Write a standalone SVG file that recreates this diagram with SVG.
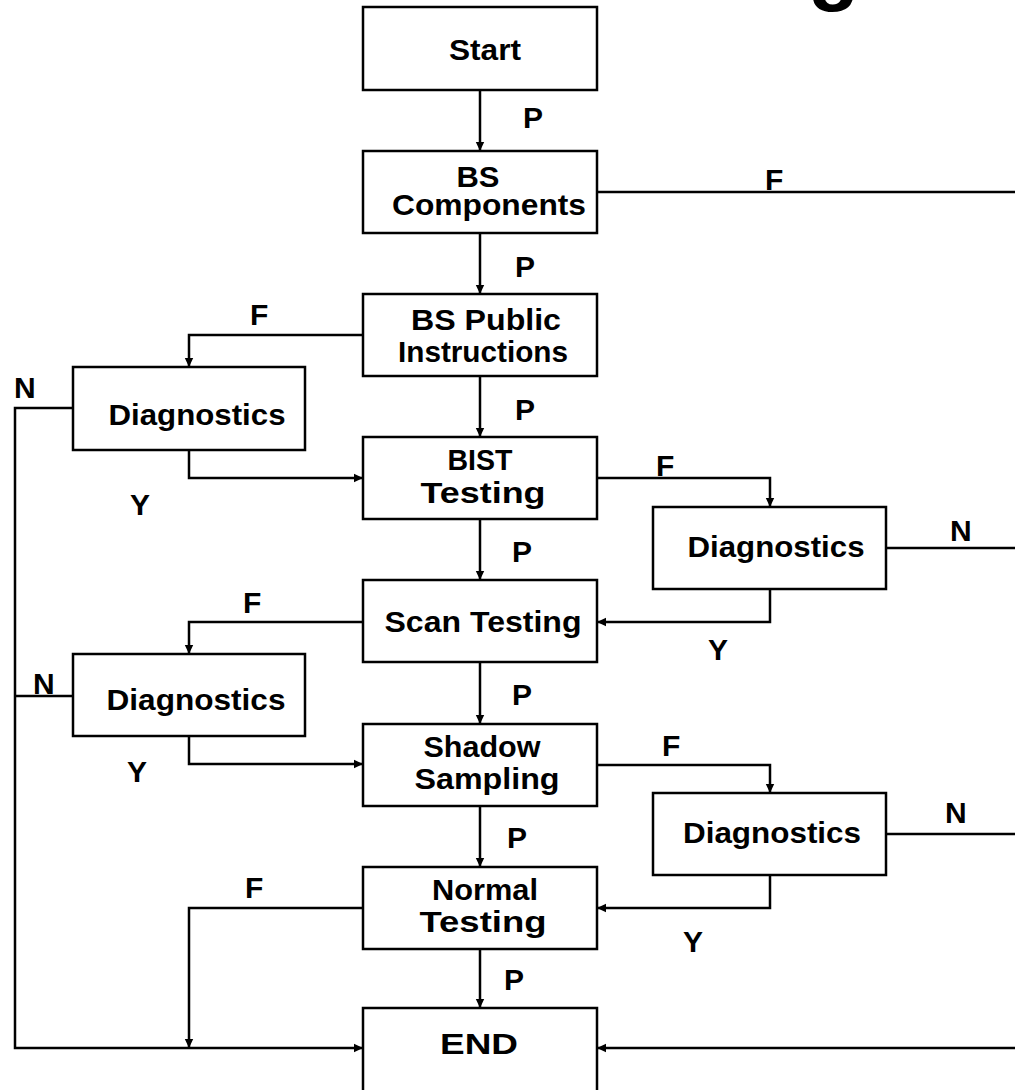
<svg xmlns="http://www.w3.org/2000/svg" width="1015" height="1090" viewBox="0 0 1015 1090">
  <style>
    .box { fill: #ffffff; stroke: #000000; stroke-width: 2.5; }
    .lbl { font-family: "Liberation Sans", Arial, sans-serif; font-weight: bold; font-size: 30px; fill: #000000; }
    .mid { text-anchor: middle; }
    .wire { fill: none; stroke: #000000; stroke-width: 2.5; }
    .arr { marker-end: url(#head); }
  </style>
  <defs>
    <marker id="head" markerUnits="userSpaceOnUse" markerWidth="10" markerHeight="10" refX="9" refY="5" orient="auto">
      <path d="M0,0.8 L9,5 L0,9.2 Z" fill="#000000"/>
    </marker>
  </defs>
  <rect width="1015" height="1090" fill="#ffffff"/>

  <!-- tail of the page heading, cut by the top edge -->
  <text class="lbl" x="808" y="-5" style="font-size:84px">g</text>

  <g id="connectors">
    <!-- main pass path -->
    <path class="wire arr" d="M480,90 V151"/>
    <path class="wire arr" d="M480,233 V294"/>
    <path class="wire arr" d="M480,376 V437"/>
    <path class="wire arr" d="M480,519 V580"/>
    <path class="wire arr" d="M480,662 V724"/>
    <path class="wire arr" d="M480,806 V867"/>
    <path class="wire arr" d="M480,949 V1008"/>
    <!-- BS components fail, leaves to the right -->
    <path class="wire" d="M597,192 H1015"/>
    <!-- BS public instructions fail -> diagnostics -->
    <path class="wire arr" d="M363,335 H189 V367"/>
    <path class="wire arr" d="M189,450 V478 H363"/>
    <!-- left bus to END -->
    <path class="wire arr" d="M73,408 H15 V1048 H363"/>
    <path class="wire" d="M73,696 H15"/>
    <!-- BIST fail -> diagnostics -->
    <path class="wire arr" d="M597,478 H770 V507"/>
    <path class="wire arr" d="M770,589 V622 H597"/>
    <path class="wire" d="M886,548 H1015"/>
    <!-- scan fail -> diagnostics -->
    <path class="wire arr" d="M363,622 H189 V654"/>
    <path class="wire arr" d="M189,736 V764 H363"/>
    <!-- shadow sampling fail -> diagnostics -->
    <path class="wire arr" d="M597,765 H770 V793"/>
    <path class="wire arr" d="M770,875 V908 H597"/>
    <path class="wire" d="M886,834 H1015"/>
    <!-- normal testing fail -->
    <path class="wire arr" d="M363,908 H189 V1048"/>
    <!-- right return into END -->
    <path class="wire arr" d="M1015,1048 H597"/>
  </g>

  <g id="connector-labels">
    <text class="lbl" x="523" y="128">P</text>
    <text class="lbl" x="515" y="277">P</text>
    <text class="lbl" x="515" y="420">P</text>
    <text class="lbl" x="512" y="562">P</text>
    <text class="lbl" x="512" y="705">P</text>
    <text class="lbl" x="507" y="848">P</text>
    <text class="lbl" x="504" y="990">P</text>

    <text class="lbl" x="765" y="190">F</text>
    <text class="lbl" x="250" y="325">F</text>
    <text class="lbl" x="656" y="476">F</text>
    <text class="lbl" x="243" y="613">F</text>
    <text class="lbl" x="662" y="756">F</text>
    <text class="lbl" x="245" y="898">F</text>

    <text class="lbl" x="14" y="398">N</text>
    <text class="lbl" x="33" y="694">N</text>
    <text class="lbl" x="950" y="541">N</text>
    <text class="lbl" x="945" y="823">N</text>

    <text class="lbl" x="130" y="515">Y</text>
    <text class="lbl" x="127" y="782">Y</text>
    <text class="lbl" x="708" y="660">Y</text>
    <text class="lbl" x="683" y="952">Y</text>
  </g>

  <g id="start">
    <rect class="box" x="363" y="7" width="234" height="83"/>
    <text class="lbl mid" x="485" y="60" textLength="72" lengthAdjust="spacingAndGlyphs">Start</text>
  </g>
  <g id="bs-components">
    <rect class="box" x="363" y="151" width="234" height="82"/>
    <text class="lbl mid" x="478" y="187" textLength="43" lengthAdjust="spacingAndGlyphs">BS</text>
    <text class="lbl mid" x="489" y="215" textLength="194" lengthAdjust="spacingAndGlyphs">Components</text>
  </g>
  <g id="bs-public-instructions">
    <rect class="box" x="363" y="294" width="234" height="82"/>
    <text class="lbl mid" x="486" y="330" textLength="150" lengthAdjust="spacingAndGlyphs">BS Public</text>
    <text class="lbl mid" x="483" y="362" textLength="170" lengthAdjust="spacingAndGlyphs">Instructions</text>
  </g>
  <g id="diagnostics-1">
    <rect class="box" x="73" y="367" width="232" height="83"/>
    <text class="lbl mid" x="197" y="425" textLength="177" lengthAdjust="spacingAndGlyphs">Diagnostics</text>
  </g>
  <g id="bist-testing">
    <rect class="box" x="363" y="437" width="234" height="82"/>
    <text class="lbl mid" x="480" y="470" textLength="65" lengthAdjust="spacingAndGlyphs">BIST</text>
    <text class="lbl mid" x="483" y="503" textLength="125" lengthAdjust="spacingAndGlyphs">Testing</text>
  </g>
  <g id="diagnostics-2">
    <rect class="box" x="653" y="507" width="233" height="82"/>
    <text class="lbl mid" x="776" y="557" textLength="177" lengthAdjust="spacingAndGlyphs">Diagnostics</text>
  </g>
  <g id="scan-testing">
    <rect class="box" x="363" y="580" width="234" height="82"/>
    <text class="lbl mid" x="483" y="632" textLength="197" lengthAdjust="spacingAndGlyphs">Scan Testing</text>
  </g>
  <g id="diagnostics-3">
    <rect class="box" x="73" y="654" width="232" height="82"/>
    <text class="lbl mid" x="196" y="710" textLength="179" lengthAdjust="spacingAndGlyphs">Diagnostics</text>
  </g>
  <g id="shadow-sampling">
    <rect class="box" x="363" y="724" width="234" height="82"/>
    <text class="lbl mid" x="482" y="757" textLength="117" lengthAdjust="spacingAndGlyphs">Shadow</text>
    <text class="lbl mid" x="487" y="789" textLength="145" lengthAdjust="spacingAndGlyphs">Sampling</text>
  </g>
  <g id="diagnostics-4">
    <rect class="box" x="653" y="793" width="233" height="82"/>
    <text class="lbl mid" x="772" y="843" textLength="178" lengthAdjust="spacingAndGlyphs">Diagnostics</text>
  </g>
  <g id="normal-testing">
    <rect class="box" x="363" y="867" width="234" height="82"/>
    <text class="lbl mid" x="485" y="900" textLength="106" lengthAdjust="spacingAndGlyphs">Normal</text>
    <text class="lbl mid" x="483" y="932" textLength="127" lengthAdjust="spacingAndGlyphs">Testing</text>
  </g>
  <g id="end">
    <rect class="box" x="363" y="1008" width="234" height="84"/>
    <text class="lbl mid" x="479" y="1054" textLength="78" lengthAdjust="spacingAndGlyphs">END</text>
  </g>
</svg>
